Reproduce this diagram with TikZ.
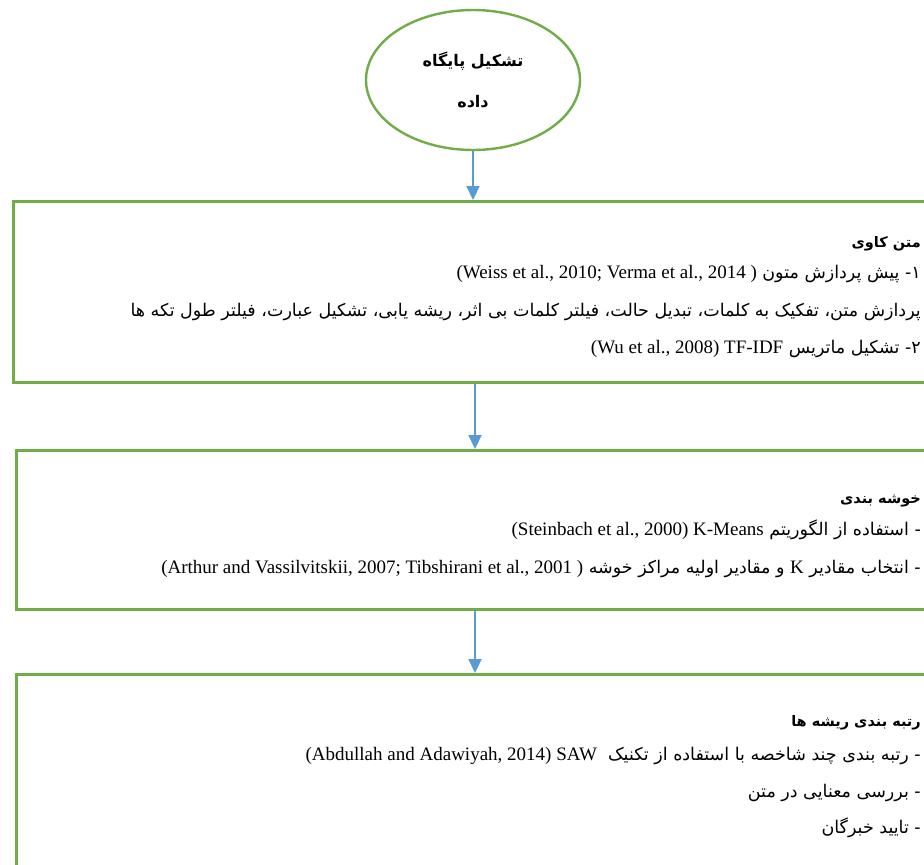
\documentclass[tikz,border=0pt]{standalone}
\usepackage{fontspec}
\setmainfont{Liberation Serif}
\newfontfamily\fa[Script=Arabic]{DejaVu Sans}
\usetikzlibrary{shapes.geometric,arrows.meta}
\TeXXeTstate=1
\definecolor{boxgreen}{HTML}{70AD47}
\definecolor{arrblue}{HTML}{5B9BD5}
\newcommand\ltr[1]{\beginL{\rmfamily\fontsize{19}{22}\selectfont #1}\endL}
\tikzset{
  boxstyle/.style={draw=boxgreen, line width=2.8pt, anchor=north west, minimum width=1000pt, inner sep=0pt},
  ellstyle/.style={ellipse, draw=boxgreen, line width=2.4pt, minimum width=214pt, minimum height=140pt, inner sep=0pt, align=center, font=\fa\bfseries\fontsize{16}{41}\selectfont},
  arrstyle/.style={draw=arrblue, line width=2.2pt, -{Triangle[length=14pt,width=13pt]}},
  txt/.style={anchor=east, inner sep=0pt, yshift=-3.5pt, font=\fa\fontsize{17.5}{21}\selectfont, text height=13pt, text depth=6pt},
  ttl/.style={txt, font=\fa\bfseries\fontsize{14.5}{18}\selectfont}
}
\begin{document}
\begin{tikzpicture}[x=1pt,y=-1pt]
\useasboundingbox (0,0) rectangle (924,865);
\clip (0,0) rectangle (924,865);
\fill[white] (0,0) rectangle (924,865);
\coordinate (axis) at (475,0);
\node[ellstyle] (ell) at (473,80) {\beginR تشکیل پایگاه\endR\\\beginR داده\endR};
\node[boxstyle, minimum height=181pt] (b1) at (12,200) {};
\node[boxstyle, minimum height=159pt] (b2) at (15,449) {};
\node[boxstyle, minimum height=260pt] (b3) at (15,673) {};
\draw[arrstyle] (ell.south) -- (b1.north -| ell.south);
\draw[arrstyle] (b1.south -| axis) -- (b2.north -| axis);
\draw[arrstyle] (b2.south -| axis) -- (b3.north -| axis);
% box 1
\node[ttl] (t1) at (921,240) {\beginR متن کاوی\endR};
\node[txt] (t1a) at (921,271) {\beginR ۱- پیش پردازش متون \ltr{(Weiss et al., 2010; Verma et al., 2014 )}\endR};
\node[txt] (t1b) at (921,309) {\beginR پردازش متن، تفکیک به کلمات، تبدیل حالت، فیلتر کلمات بی اثر، ریشه یابی، تشکیل عبارت، فیلتر طول تکه ها\endR};
\node[txt] (t1c) at (921,346) {\beginR ۲- تشکیل ماتریس \ltr{(Wu et al., 2008) TF-IDF}\endR};
% box 2
\node[ttl] (t2) at (921,496) {\beginR خوشه بندی\endR};
\node[txt] (t2a) at (921,528) {\beginR - استفاده از الگوریتم \ltr{(Steinbach et al., 2000) K-Means}\endR};
\node[txt] (t2b) at (921,566) {\beginR - انتخاب مقادیر \ltr{K} و مقادیر اولیه مراکز خوشه \ltr{(Arthur and Vassilvitskii, 2007; Tibshirani et al., 2001 )}\endR};
% box 3
\node[ttl] (t3) at (921,719) {\beginR رتبه بندی ریشه ها\endR};
\node[txt] (t3a) at (921,753) {\beginR - رتبه بندی چند شاخصه با استفاده از تکنیک\ \ \ltr{(Abdullah and Adawiyah, 2014) SAW}\endR};
\node[txt] (t3b) at (921,790) {\beginR - بررسی معنایی در متن\endR};
\node[txt] (t3c) at (921,826) {\beginR - تایید خبرگان\endR};
\end{tikzpicture}
\end{document}
